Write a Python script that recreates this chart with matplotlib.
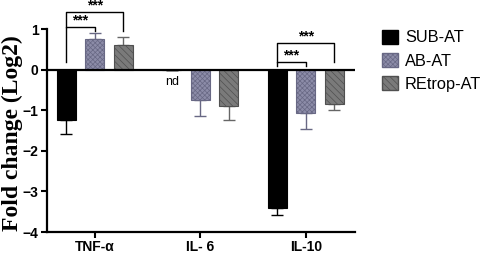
import numpy as np
import matplotlib
matplotlib.use("Agg")
import matplotlib.pyplot as plt
from matplotlib.patches import Patch

cytokines = ["TNF-α", "IL- 6", "IL-10"]
groups = ["SUB-AT", "AB-AT", "REtrop-AT"]
sub_at = [-1.25, np.nan, -3.40]
sub_err = [0.33, 0.0, 0.19]
ab_at = [0.76, -0.74, -1.06]
ab_err = [0.14, 0.39, 0.41]
re_at = [0.61, -0.90, -0.85]
re_err = [0.19, 0.35, 0.14]

plt.rcParams["font.family"] = ["Liberation Sans", "DejaVu Sans"]
plt.rcParams["hatch.linewidth"] = 0.5

fig = plt.figure(figsize=(4.84, 2.57), dpi=100)
ax = fig.add_axes([0.097, 0.097, 0.636, 0.79])

x = np.arange(len(cytokines))
off = 0.27
w = 0.18

ab_style = dict(facecolor="#8c8ca8", edgecolor="#686884", hatch="xxxxxxx")
re_style = dict(facecolor="#7a7a7a", edgecolor="#505050", hatch="\\\\\\\\\\")


def one_sided(vals, errs):
    lo = [e if v < 0 else 0 for v, e in zip(vals, errs)]
    hi = [e if v > 0 else 0 for v, e in zip(vals, errs)]
    return [lo, hi]


styles = [
    (sub_at, sub_err, -off, dict(color="black", edgecolor="black"), "black"),
    (ab_at, ab_err, 0, ab_style, "#686884"),
    (re_at, re_err, off, re_style, "#666666"),
]
for vals, errs, dx, kw, ecol in styles:
    v = np.nan_to_num(np.array(vals, dtype=float))
    ax.bar(x + dx, v, w, linewidth=0.8, zorder=2, **kw)
    ax.errorbar(x + dx, v, yerr=one_sided(v, errs), fmt="none", ecolor=ecol,
                elinewidth=1.0, capsize=4, capthick=1.0, zorder=1)

ax.axhline(0, color="black", lw=1.6, zorder=3)
ax.set_xlim(-0.455, 2.465)
ax.set_ylim(-4, 1)
ax.set_yticks([1, 0, -1, -2, -3, -4])
ax.set_xticks(x)
ax.set_xticklabels(cytokines, fontsize=10, fontweight="bold")
for lab in ax.get_yticklabels():
    lab.set_fontweight("bold")
    lab.set_fontsize(10)
ax.tick_params(width=1.5, length=4, pad=2)
for s in ("top", "right"):
    ax.spines[s].set_visible(False)
for s in ("left", "bottom"):
    ax.spines[s].set_linewidth(1.6)

ax.set_ylabel("Fold change (Log2)", fontsize=17, fontweight="bold",
              family=["Liberation Serif"])
ax.yaxis.set_label_coords(-0.079, 0.485)

ax.text(1 - off, -0.3, "nd", fontsize=9, ha="center", va="center")


def bracket(x1, x2, y, y1, y2, sx, sy):
    ax.plot([x1, x1, x2, x2], [y1, y, y, y2], color="black", lw=1.0,
            clip_on=False, zorder=4)
    ax.text(sx, sy, "***", fontsize=10, fontweight="bold", ha="center",
            va="center", clip_on=False)


bracket(-off, 0, 1.04, 0.2, 0.95, -0.14, 1.2)
bracket(-off, off, 1.42, 1.04, 0.96, 0.0, 1.58)
bracket(2 - off, 2, 0.2, 0.1, 0.1, 1.86, 0.36)
bracket(2 - off, 2 + off, 0.66, 0.2, 0.2, 2.0, 0.82)

handles = [
    Patch(facecolor="black", edgecolor="black"),
    Patch(**ab_style),
    Patch(**re_style),
]
fig.legend(handles, groups, loc="upper left", bbox_to_anchor=(0.789, 0.885),
           frameon=False, fontsize=11.8, handlelength=0.98, handleheight=0.98,
           handletextpad=0.43, labelspacing=0.45, borderaxespad=0, borderpad=0)

fig.savefig("out.png", dpi=100)
